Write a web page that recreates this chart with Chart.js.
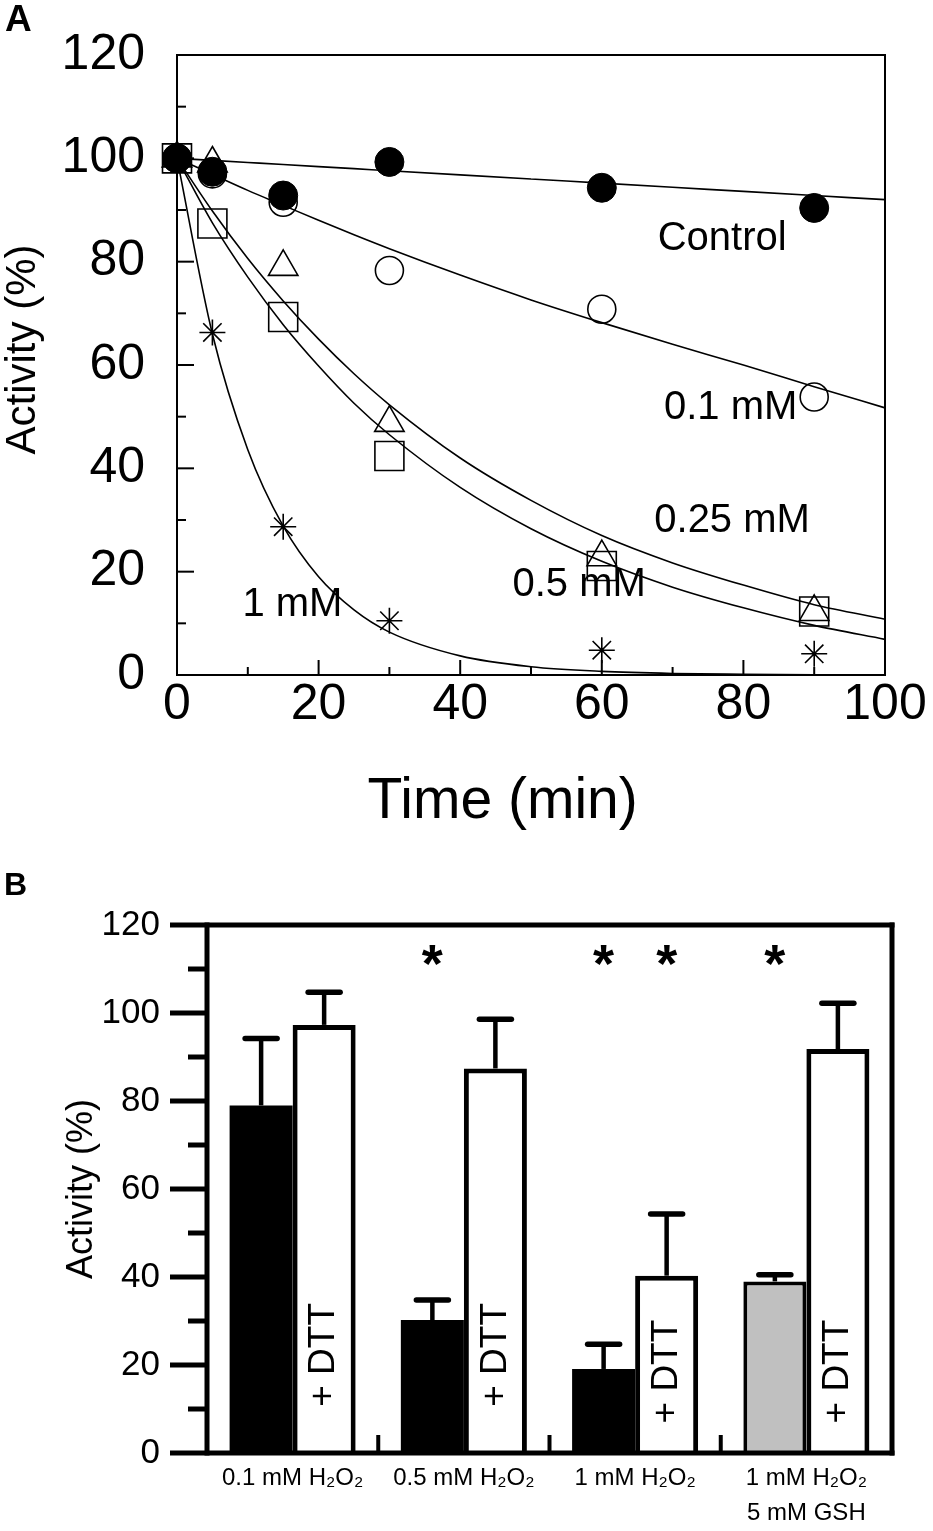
<!DOCTYPE html>
<html><head><meta charset="utf-8">
<script src="https://cdn.jsdelivr.net/npm/chart.js@4.4.1/dist/chart.umd.min.js"></script>
<style>
html,body{margin:0;padding:0;background:#fff;}
body{width:933px;height:1531px;position:relative;overflow:hidden;font-family:"Liberation Sans",Arial,sans-serif;}
#wrapA{position:absolute;left:0;top:0;width:933px;height:870px;}
#wrapB{position:absolute;left:0;top:870px;width:933px;height:661px;}
.panel{position:absolute;font-weight:bold;color:#000;line-height:1;font-family:"Liberation Sans",Arial,sans-serif;}
</style></head><body>
<div id="wrapA"><canvas id="chartA"></canvas></div>
<div id="wrapB"><canvas id="chartB"></canvas></div>
<div class="panel" style="left:5px;top:0px;font-size:37px;">A</div>
<div class="panel" style="left:4px;top:868px;font-size:32px;">B</div>
<script>
// ---------- Panel A data ----------
const timePoints = [0, 5, 15, 30, 60, 90];
const controlAct = [100, 97.4, 92.8, 99.3, 94.3, 90.4];
const h01Act     = [100, 97.0, 91.5, 78.3, 70.8, 53.8];
const h025Act    = [100, 99.0, 79.0, 48.8, 22.8, 12.2];
const h05Act     = [100, 87.4, 69.3, 42.4, 21.1, 12.3];
const h1Act      = [100, 66.3, 28.7, 10.5, 4.8, 4.1];

const fitTimes   = [0, 5, 10, 15, 20, 25, 30, 40, 50, 60, 70, 80, 90, 100];
const controlFit = [100, 99.6, 99.2, 98.8, 98.4, 98.0, 97.6, 96.8, 96.0, 95.2, 94.4, 93.6, 92.8, 92.0];
const h01Fit     = [100, 96.9, 93.8, 90.9, 88.0, 85.2, 82.5, 77.4, 72.6, 68.2, 64.0, 60.0, 55.8, 51.7];
const h025Fit    = [100, 89.8, 80.6, 72.4, 65.0, 58.3, 52.3, 42.0, 33.8, 27.0, 21.7, 17.4, 13.6, 10.8];
const h05Fit     = [100, 87.5, 77.0, 67.8, 59.8, 52.6, 46.5, 36.3, 28.3, 22.0, 17.0, 13.0, 9.6, 6.9];
const h1Fit      = [100, 66.0, 43.6, 28.8, 19.0, 12.6, 8.3, 3.7, 1.6, 0.7, 0.3, 0.15, 0.06, 0.03];

const curveLabelText = ['Control', '0.1 mM', '0.25 mM', '0.5 mM', '1 mM'];
const curveLabelX    = [77, 78.2, 78.4, 56.8, 16.3];
const curveLabelY    = [84.4, 51.6, 29.8, 17.4, 13.5];
const titleAX = 'Time (min)';
const titleAY = 'Activity (%)';

// ---------- Panel B data ----------
const groupLabels = ['0.1 mM H\u2082O\u2082', '0.5 mM H\u2082O\u2082', '1 mM H\u2082O\u2082', ['1 mM H\u2082O\u2082', '5 mM GSH']];
const h2o2Only    = [79.0, 30.2, 19.1, 39.0];
const h2o2OnlyErr = [15.2, 4.6, 5.6, 1.5];
const withDTT     = [97.3, 87.4, 40.3, 91.8];
const withDTTErr  = [7.4, 11.2, 14.0, 10.4];
const sigH2o2Only = [false, true, true, true];
const sigWithDTT  = [false, false, true, false];
const starLevel   = 112.7;
const dttLabelY   = [22.3, 22.3, 18.5, 18.5];

const FONT = '"Liberation Sans", Arial, Helvetica, sans-serif';
Chart.defaults.font.family = FONT;
Chart.defaults.color = '#000';

function pts(xs, ys) { return xs.map((x, i) => ({x: x, y: ys[i]})); }
function seg(ctx, x1, y1, x2, y2) { ctx.beginPath(); ctx.moveTo(x1, y1); ctx.lineTo(x2, y2); ctx.stroke(); }

// ---------- Panel A ----------
const decorA = {
  id: 'decorA',
  beforeDatasetsDraw(chart) {
    const {ctx, chartArea: a, scales: {x, y}} = chart;
    ctx.save();
    ctx.strokeStyle = '#000';
    ctx.lineWidth = 2;
    ctx.strokeRect(a.left, a.top, a.right - a.left, a.bottom - a.top);
    for (let v = 10; v < 120; v += 10) {
      const py = y.getPixelForValue(v);
      seg(ctx, a.left, py, a.left + (v % 20 === 0 ? 17 : 9), py);
    }
    for (let v = 10; v < 100; v += 10) {
      const px = x.getPixelForValue(v);
      seg(ctx, px, a.bottom, px, a.bottom - (v % 20 === 0 ? 15 : 8));
    }
    ctx.restore();
  },
  afterDatasetsDraw(chart) {
    const {ctx, chartArea: a, scales: {x, y}} = chart;
    ctx.save();
    ctx.fillStyle = '#000';
    ctx.font = '40px ' + FONT;
    ctx.textAlign = 'center';
    ctx.textBaseline = 'middle';
    curveLabelText.forEach((t, i) => {
      ctx.fillText(t, x.getPixelForValue(curveLabelX[i]), y.getPixelForValue(curveLabelY[i]));
    });
    // axis titles
    ctx.font = '57px ' + FONT;
    ctx.fillText(titleAX, a.left + (a.right - a.left) * 0.46, a.bottom + 127);
    ctx.font = '42px ' + FONT;
    ctx.translate(23, a.top + (a.bottom - a.top) * 0.475);
    ctx.rotate(-Math.PI / 2);
    ctx.fillText(titleAY, 0, 0);
    ctx.restore();
  }
};

const markerBase = {showLine: false, clip: false, borderColor: '#000', pointBorderColor: '#000'};
const curveBase = {showLine: true, pointRadius: 0, borderColor: '#000', borderWidth: 1.6, cubicInterpolationMode: 'monotone', fill: false, clip: false};

new Chart(document.getElementById('chartA'), {
  type: 'line',
  data: {
    datasets: [
      Object.assign({label: 'Control', data: pts(timePoints, controlAct), pointStyle: 'circle', pointRadius: 14.5, pointBackgroundColor: '#000', pointBorderWidth: 1}, markerBase),
      Object.assign({label: '0.1 mM', data: pts(timePoints, h01Act), pointStyle: 'circle', pointRadius: 14, pointBackgroundColor: 'rgba(0,0,0,0)', pointBorderWidth: 1.6}, markerBase),
      Object.assign({label: '0.25 mM', data: pts(timePoints, h025Act), pointStyle: 'triangle', pointRadius: 17, pointBackgroundColor: 'rgba(0,0,0,0)', pointBorderWidth: 1.6}, markerBase),
      Object.assign({label: '0.5 mM', data: pts(timePoints, h05Act), pointStyle: 'rect', pointRadius: 20.5, pointBackgroundColor: 'rgba(0,0,0,0)', pointBorderWidth: 1.6}, markerBase),
      Object.assign({label: '1 mM', data: pts(timePoints, h1Act), pointStyle: 'star', pointRadius: 13, pointBackgroundColor: 'rgba(0,0,0,0)', pointBorderWidth: 1.6}, markerBase),
      Object.assign({label: 'Control fit', data: pts(fitTimes, controlFit)}, curveBase),
      Object.assign({label: '0.1 mM fit', data: pts(fitTimes, h01Fit)}, curveBase),
      Object.assign({label: '0.25 mM fit', data: pts(fitTimes, h025Fit)}, curveBase),
      Object.assign({label: '0.5 mM fit', data: pts(fitTimes, h05Fit)}, curveBase),
      Object.assign({label: '1 mM fit', data: pts(fitTimes, h1Fit)}, curveBase)
    ]
  },
  options: {
    responsive: true,
    maintainAspectRatio: false,
    animation: false,
    events: [],
    layout: {autoPadding: false, padding: {left: 0, top: 55, right: 48, bottom: 0}},
    plugins: {legend: {display: false}, tooltip: {enabled: false}},
    scales: {
      x: {
        type: 'linear', min: 0, max: 100,
        grid: {display: false, drawTicks: false},
        border: {display: false},
        ticks: {stepSize: 20, font: {size: 50}, padding: 0, color: '#000', maxRotation: 0},
        title: {display: false},
        afterFit: s => { s.height = 195; }
      },
      y: {
        type: 'linear', min: 0, max: 120,
        grid: {display: false, drawTicks: true, tickLength: 32},
        border: {display: false},
        ticks: {stepSize: 20, font: {size: 50}, padding: 0, color: '#000'},
        title: {display: false},
        afterFit: s => { s.width = 177; }
      }
    }
  },
  plugins: [decorA]
});

// ---------- Panel B ----------
const decorB = {
  id: 'decorB',
  afterDatasetsDraw(chart) {
    const {ctx, chartArea: a, scales: {x, y}} = chart;
    ctx.save();
    ctx.strokeStyle = '#000';
    ctx.fillStyle = '#000';
    // error bars
    const errs = [h2o2OnlyErr, withDTTErr];
    [0, 1].forEach(di => {
      const meta = chart.getDatasetMeta(di);
      const vals = chart.data.datasets[di].data;
      meta.data.forEach((bar, i) => {
        const top = y.getPixelForValue(vals[i] + errs[di][i]);
        ctx.lineCap = 'butt';
        ctx.lineWidth = 4.5;
        seg(ctx, bar.x, bar.y, bar.x, top);
        ctx.lineCap = 'round';
        ctx.lineWidth = 5.5;
        seg(ctx, bar.x - 16, top, bar.x + 16, top);
      });
    });
    // frame
    ctx.lineCap = 'butt';
    ctx.lineWidth = 5;
    seg(ctx, a.left - 37, a.top, a.right + 2.5, a.top);
    seg(ctx, a.left, a.top - 2.5, a.left, a.bottom + 2.5);
    seg(ctx, a.right, a.top - 2.5, a.right, a.bottom + 2.5);
    seg(ctx, a.left - 37, a.bottom, a.right + 2.5, a.bottom);
    for (let v = 10; v < 120; v += 10) {
      const py = y.getPixelForValue(v);
      seg(ctx, a.left - (v % 20 === 0 ? 37 : 19), py, a.left, py);
    }
    ctx.lineWidth = 4;
    for (let i = 1; i < groupLabels.length; i++) {
      const px = (x.getPixelForValue(i - 1) + x.getPixelForValue(i)) / 2;
      seg(ctx, px, a.bottom, px, a.bottom - 18);
    }
    // significance stars
    ctx.font = 'bold 54px ' + FONT;
    ctx.textAlign = 'center';
    ctx.textBaseline = 'alphabetic';
    const sigs = [sigH2o2Only, sigWithDTT];
    [0, 1].forEach(di => {
      chart.getDatasetMeta(di).data.forEach((bar, i) => {
        if (sigs[di][i]) ctx.fillText('*', bar.x, y.getPixelForValue(starLevel) + 0.46 * 54);
      });
    });
    // + DTT labels
    ctx.font = '37px ' + FONT;
    ctx.textBaseline = 'middle';
    chart.getDatasetMeta(1).data.forEach((bar, i) => {
      ctx.save();
      ctx.translate(bar.x, y.getPixelForValue(dttLabelY[i]));
      ctx.rotate(-Math.PI / 2);
      ctx.fillText('+ DTT', 0, 0);
      ctx.restore();
    });
    ctx.restore();
  }
};

new Chart(document.getElementById('chartB'), {
  type: 'bar',
  data: {
    labels: groupLabels,
    datasets: [
      {label: 'H2O2', data: h2o2Only, backgroundColor: ['#000', '#000', '#000', '#c0c0c0'], borderColor: '#000', borderWidth: [0, 0, 0, 4], borderSkipped: 'start'},
      {label: '+ DTT', data: withDTT, backgroundColor: '#fff', borderColor: '#000', borderWidth: 5, borderSkipped: 'start'}
    ]
  },
  options: {
    responsive: true,
    maintainAspectRatio: false,
    animation: false,
    events: [],
    layout: {autoPadding: false, padding: {left: 0, top: 55, right: 41, bottom: 0}},
    plugins: {legend: {display: false}, tooltip: {enabled: false}},
    datasets: {bar: {categoryPercentage: 0.736, barPercentage: 1.0}},
    scales: {
      x: {
        grid: {display: false, drawTicks: false},
        border: {display: false},
        ticks: {font: {size: 24, lineHeight: 1.45}, padding: 8, color: '#000', maxRotation: 0, autoSkip: false},
        afterFit: s => { s.height = 78; }
      },
      y: {
        min: 0, max: 120,
        grid: {display: false, drawTicks: true, tickLength: 47},
        border: {display: false},
        ticks: {stepSize: 20, font: {size: 35}, padding: 0, color: '#000'},
        title: {display: true, text: 'Activity (%)', font: {size: 36, lineHeight: 1.2}, padding: {top: 60, bottom: 0}, color: '#000'},
        afterFit: s => { s.width = 207; }
      }
    }
  },
  plugins: [decorB]
});
</script>
</body></html>
